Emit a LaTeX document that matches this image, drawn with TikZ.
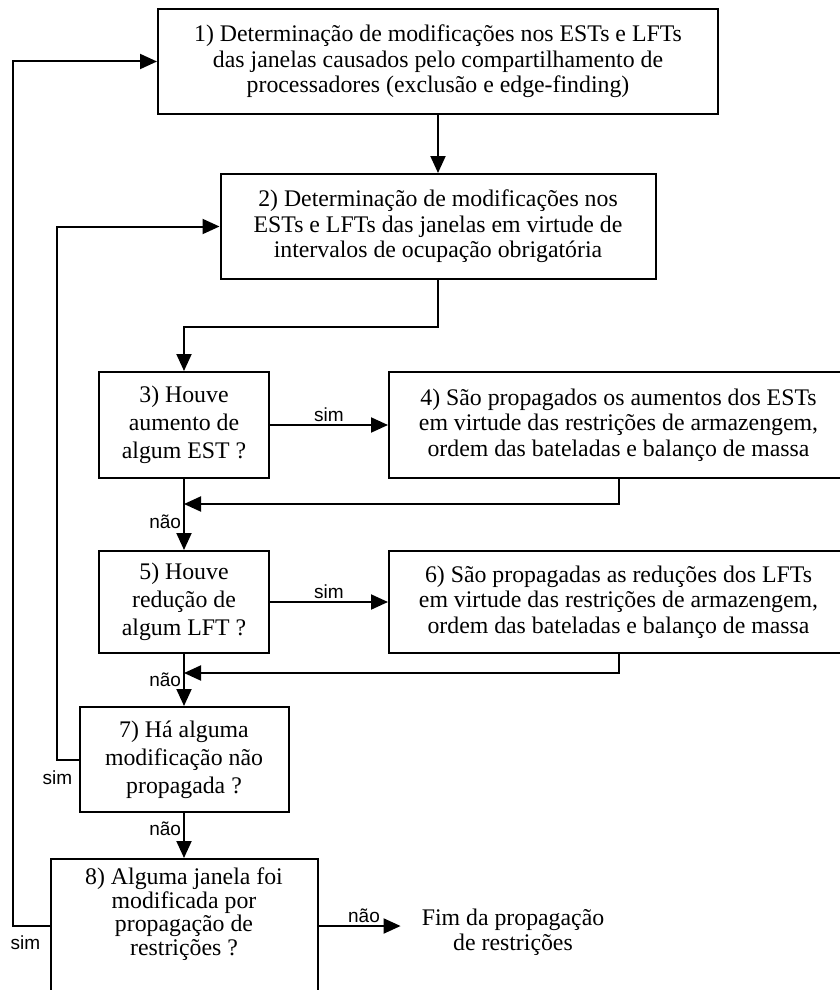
\documentclass[tikz,border=0pt]{standalone}
\usepackage{fontspec}
\setmainfont{Liberation Serif}
\newfontfamily\lblfont{Liberation Sans}
\usetikzlibrary{arrows.meta,calc}
\begin{document}
\begin{tikzpicture}[x=1pt,y=-1pt,
  box/.style={draw,line width=2pt,align=center,inner sep=0pt,
    font=\fontsize{23.8}{25.5}\selectfont},
  small/.style={font=\fontsize{23.8}{28}\selectfont},
  txt/.style={align=center,inner sep=0pt,font=\fontsize{23.8}{25}\selectfont},
  arr/.style={line width=2pt,-{Triangle[length=17pt,width=15pt]}},
  lbl/.style={font=\lblfont\fontsize{19}{20}\selectfont,inner sep=2pt}]
\useasboundingbox (0,0) rectangle (840,990);
\fill[white] (0,0) rectangle (840,990);

% process boxes
\node[box,minimum width=560,minimum height=105] (b1) at (438,61.5)
  {1) Determinação de modificações nos ESTs e LFTs\\
   das janelas causados pelo compartilhamento de\\
   processadores (exclusão e edge-finding)};
\node[box,minimum width=435,minimum height=105] (b2) at (438,226.5)
  {2) Determinação de modificações nos\\
   ESTs e LFTs das janelas em virtude de\\
   intervalos de ocupação obrigatória};
\node[box,small,minimum width=170,minimum height=106] (b3) at (184,425)
  {3) Houve\\ aumento de\\ algum EST ?};
\node[box,minimum width=459,minimum height=106] (b4) at (618.5,425)
  {4) São propagados os aumentos dos ESTs\\
   em virtude das restrições de armazengem,\\
   ordem das bateladas e balanço de massa};
\node[box,small,minimum width=170,minimum height=102] (b5) at (184,602)
  {5) Houve\\ redução de\\ algum LFT ?};
\node[box,minimum width=459,minimum height=102] (b6) at (618.5,602)
  {6) São propagadas as reduções dos LFTs\\
   em virtude das restrições de armazengem,\\
   ordem das bateladas e balanço de massa};
\node[box,small,minimum width=209,minimum height=105] (b7) at (184,759.5)
  {7) Há alguma\\ modificação não\\ propagada ?};
\node[box,minimum width=267,minimum height=134] (b8) at (184,926) {};
\node[txt,font=\fontsize{23.8}{23.5}\selectfont] (t8) at (184,914)
  {8) Alguma janela foi\\ modificada por\\ propagação de\\ restrições ?};
\node[txt,inner xsep=2pt] (fim) at (513,932)
  {Fim da propagação\\ de restrições};

% main flow
\draw[arr] (b1.south) -- (b2.north);
\draw[arr] (b2.south) -- ++(0,47) -| (b3.north);
\draw[arr] (b3.east) -- node[lbl,above] {sim} (b4.west);
\draw[arr] (b3.south) -- node[lbl,left,pos=0.6] {não} (b5.north);
\draw[arr] (b4.south) |- ($(b3.south)+(0,25)$);
\draw[arr] (b5.east) -- node[lbl,above] {sim} (b6.west);
\draw[arr] (b6.south) |- ($(b5.south)+(0,19)$);
\draw[arr] (b5.south) -- node[lbl,left] {não} (b7.north);
\draw[arr] (b7.south) -- node[lbl,left,pos=0.35] {não} (b8.north);
\draw[arr,shorten >=19pt] (b8.east) -- node[lbl,above,pos=0.45] {não} (fim.west |- b8.east);

% feedback loops
\draw[arr] (b7.west) -- ++(-22,0) |- (b2.west);
\node[lbl] (s7) at ($(b7.west)+(-21,18)$) {sim};
\draw[arr] (b8.west) -- ++(-37,0) |- (b1.west);
\node[lbl] (s8) at ($(b8.west)+(-24,17)$) {sim};
\end{tikzpicture}
\end{document}
